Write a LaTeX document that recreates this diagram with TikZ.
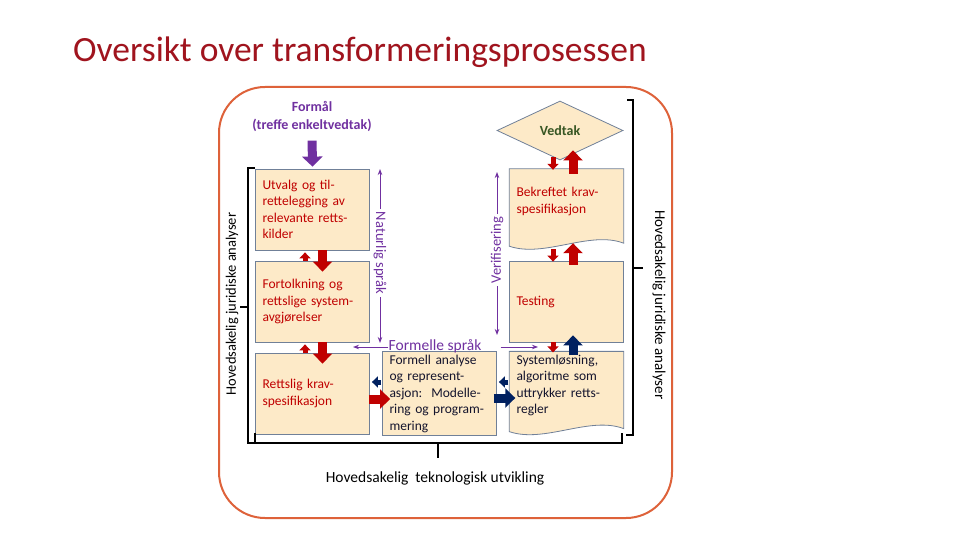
\documentclass[tikz,border=0pt]{standalone}
\usepackage{fontspec}
\setmainfont{Carlito}
\usetikzlibrary{shapes,arrows.meta,positioning,backgrounds}

\definecolor{boxfill}{RGB}{253,234,200}
\definecolor{boxline}{RGB}{112,128,152}
\definecolor{arrred}{RGB}{192,0,0}
\definecolor{arrnavy}{RGB}{0,32,96}
\definecolor{lilla}{RGB}{112,48,160}
\definecolor{frame}{RGB}{222,98,58}
\definecolor{titlered}{RGB}{160,20,30}
\definecolor{vedtakgreen}{RGB}{55,86,35}
\definecolor{darktext}{RGB}{20,20,45}

\newcommand{\boxfont}{\fontsize{13.5pt}{16.5pt}\selectfont}
\newcommand{\sidefont}{\fontsize{14.5pt}{17pt}\selectfont}

\tikzstyle{block} = [draw=boxline, fill=boxfill, rectangle, line width=0.8pt,
    minimum width=114pt, minimum height=81pt, text width=100pt,
    inner xsep=7pt, align=left, font=\boxfont, text=arrred]
\tikzstyle{doc} = [rectangle, minimum width=114pt, minimum height=65pt,
    text width=100pt, inner xsep=7pt, align=left, font=\boxfont, text=arrred]
\tikzstyle{docline} = [draw=boxline, fill=boxfill, line width=0.8pt]
\tikzstyle{decision} = [diamond, draw=boxline, fill=boxfill, line width=0.8pt,
    minimum width=126pt, minimum height=59pt, aspect=2.1, inner sep=0pt,
    font=\fontsize{14pt}{16pt}\selectfont\bfseries, text=vedtakgreen]
\tikzstyle{bigred} = [draw=arrred, line width=9pt, -{Triangle[width=19pt,length=10pt]}]
\tikzstyle{smallred} = [draw=arrred, line width=5pt, -{Triangle[width=11pt,length=6pt]}]
\tikzstyle{bignavy} = [draw=arrnavy, line width=9pt, -{Triangle[width=19pt,length=10pt]}]
\tikzstyle{smallnavy} = [draw=arrnavy, line width=5pt, -{Triangle[width=11pt,length=6pt]}]
\tikzstyle{bigpurple} = [draw=lilla, line width=9pt, -{Triangle[width=20pt,length=10pt]}]
\tikzstyle{langline} = [draw=lilla, line width=1pt, -{Stealth[length=6pt,width=4.5pt]}]
\tikzstyle{lang} = [text=lilla, font=\sidefont, inner sep=3pt]
\tikzstyle{brace} = [draw=black, line width=1.2pt]

\begin{document}
\begin{tikzpicture}[x=1pt, y=-1pt, node distance=92pt]
    \useasboundingbox (0,0) rectangle (960,540);
    \node[anchor=base west, inner sep=0pt, text=titlered,
        font=\fontsize{35.5pt}{40pt}\selectfont] (title) at (73,62)
        {Oversikt over transformeringsprosessen};
    \draw[draw=frame, line width=2pt, rounded corners=46pt] (219,87) rectangle (672,518);

    % We start by placing the blocks of the left column
    \node[block] (utvalg) at (312.5,209.5)
        {Utvalg og til-\\rettelegging av\\relevante retts-\\kilder};
    \node[block, below of=utvalg] (fortolk)
        {Fortolkning og\\rettslige system-\\avgjørelser};
    \node[block, below of=fortolk] (rett) {Rettslig krav-\\spesifikasjon};
    \node[block, right of=rett, node distance=127pt, minimum height=82pt,
        text=darktext] (formell)
        {Formell analyse\\og represent-\\asjon:\ \ Modelle-\\ring og program-\\mering};

    % The right column; the document shapes get their outline afterwards
    \node[block, right of=fortolk, node distance=254pt] (testing) {Testing};
    \node[doc, below of=testing, node distance=84pt, text=darktext] (system)
        {Systemløsning,\\algoritme som\\uttrykker retts-\\regler};
    \node[doc, above of=testing, node distance=100pt] (bekr)
        {Bekreftet krav-\\spesifikasjon};
    \node[decision, above of=bekr, node distance=71pt, xshift=-6.5pt] (vedtak) {Vedtak};
    \begin{scope}[on background layer]
        \fill[white] (0,0) rectangle (960,540);
        \path[docline] (bekr.north west) -- (bekr.north east) -- ([yshift=-9pt]bekr.south east)
            .. controls ([xshift=-34pt,yshift=4pt]bekr.south east)
            and ([xshift=35pt,yshift=-24pt]bekr.south west) .. ([yshift=-12pt]bekr.south west) -- cycle;
        \path[docline] (system.north west) -- (system.north east) -- ([yshift=-9pt]system.south east)
            .. controls ([xshift=-34pt,yshift=4pt]system.south east)
            and ([xshift=35pt,yshift=-24pt]system.south west) .. ([yshift=-12pt]system.south west) -- cycle;
    \end{scope}

    \node[text=lilla, font=\fontsize{14pt}{18pt}\selectfont\bfseries, align=center]
        (formaal) at (312,116) {Formål\\(treffe enkeltvedtak)};
    \draw[bigpurple, shorten <=6pt, shorten >=2pt] (formaal.south) -- (utvalg.north);

    % Block arrows between the boxes
    \draw[bigred] ([xshift=10pt]utvalg.south) -- ([xshift=10pt,yshift=-11pt]fortolk.north);
    \draw[smallred] ([xshift=-7.5pt]fortolk.north) -- ([xshift=-7.5pt,yshift=-2pt]utvalg.south);
    \draw[bigred] ([xshift=10pt]fortolk.south) -- ([xshift=10pt,yshift=-11pt]rett.north);
    \draw[smallred] ([xshift=-7.5pt]rett.north) -- ([xshift=-7.5pt,yshift=-2pt]fortolk.south);
    \draw[bigred] ([xshift=-1pt,yshift=-5.5pt]rett.east) -- ([xshift=8pt,yshift=-5.5pt]formell.west);
    \draw[smallnavy] ([xshift=-1pt,yshift=11.5pt]formell.west) -- ([xshift=2pt,yshift=11.5pt]rett.east);
    \draw[bignavy] ([xshift=-3pt,yshift=-4.5pt]formell.east) -- ([xshift=6pt,yshift=-12.5pt]system.west);
    \draw[smallnavy] ([xshift=-1pt,yshift=3.5pt]system.west) -- ([xshift=2pt,yshift=11.5pt]formell.east);
    \draw[smallred] ([xshift=-13.5pt]testing.south) -- ([xshift=-13.5pt,yshift=-1pt]system.north);
    \draw[bignavy] ([xshift=6.5pt,yshift=-4pt]system.north) -- ([xshift=6.5pt,yshift=7pt]testing.south);
    \draw[smallred] ([xshift=-13.5pt,yshift=-15pt]bekr.south) -- ([xshift=-13.5pt,yshift=-1pt]testing.north);
    \draw[bigred] ([xshift=6.5pt,yshift=-4pt]testing.north) -- ([xshift=6.5pt,yshift=-9pt]bekr.south);
    \draw[smallred] ([xshift=-7pt,yshift=3pt]vedtak.south) -- ([xshift=-13.5pt,yshift=-1pt]bekr.north);
    \draw[bigred] ([xshift=6.5pt,yshift=-5pt]bekr.north) -- ([xshift=13pt,yshift=10pt]vedtak.south);

    % Natural and formal languages
    \node[lang, rotate=-90] (natur) at (380,253) {Naturlig språk};
    \coordinate (nattop) at (380,169);
    \coordinate (natbot) at (380,343);
    \draw[langline] (natur.west) -- (nattop);
    \draw[langline] (natur.east) -- (natbot);
    \node[lang, font=\fontsize{15.5pt}{18pt}\selectfont] (formelle) at (435,346) {Formelle språk};
    \coordinate (formleft) at (353,347);
    \coordinate (formright) at (538,347);
    \draw[langline, shorten <=-3pt] ([yshift=-1pt]formelle.west) -- (formleft);
    \draw[langline, shorten <=16pt] ([yshift=-1pt]formelle.east) -- (formright);
    \node[lang, rotate=90] (verif) at (497,250) {Verifisering};
    \coordinate (veritop) at (497,172);
    \coordinate (veribot) at (497,335);
    \draw[langline] (verif.east) -- (veritop);
    \draw[langline] (verif.west) -- (veribot);

    % Brackets round the analyses
    \draw[brace] (255,168) -- (248,168) -- (248,443) -- (255,443);
    \draw[brace] (248,307) -- (240,307);
    \draw[brace] (627,100) -- (633,100) -- (633,435) -- (626,435);
    \draw[brace] (633,268) -- (643,268);
    \draw[brace] (255,433) -- (255,443) -- (622,443) -- (622,433);
    \draw[brace] (438,443) -- (438,458);
    \node[font=\sidefont, rotate=90] (jusleft) at (232,304) {Hovedsakelig juridiske analyser};
    \node[font=\fontsize{15pt}{17pt}\selectfont, rotate=-90] (jusright) at (659,305) {Hovedsakelig juridiske analyser};
    \node[font=\fontsize{15.5pt}{18pt}\selectfont] (tekno) at (435,478) {Hovedsakelig\ \ teknologisk utvikling};
\end{tikzpicture}
\end{document}
